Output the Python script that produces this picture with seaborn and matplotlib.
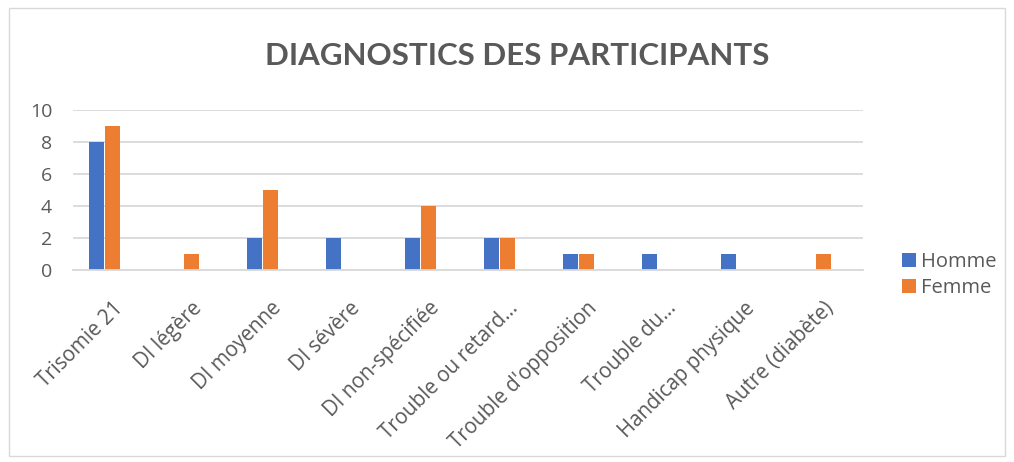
import matplotlib
matplotlib.use("Agg")
import pandas as pd
import matplotlib.pyplot as plt
import seaborn as sns
from matplotlib.patches import Rectangle
from matplotlib.transforms import ScaledTranslation

CATEGORIES = [
    "Trisomie 21", "DI légère", "DI moyenne", "DI sévère", "DI non-spécifiée",
    "Trouble ou retard…", "Trouble d'opposition", "Trouble du…",
    "Handicap physique", "Autre (diabète)",
]
HOMME = [8, 0, 2, 2, 2, 2, 1, 1, 1, 0]
FEMME = [9, 1, 5, 0, 4, 2, 1, 0, 0, 1]
SERIES = ["Homme", "Femme"]
COLORS = ["#4472C4", "#ED7D31"]
TEXT = "#595959"
GRID = "#D9D9D9"

df = pd.DataFrame({
    "cat": CATEGORIES * 2,
    "val": HOMME + FEMME,
    "sexe": ["Homme"] * len(HOMME) + ["Femme"] * len(FEMME),
})

sns.set_style("white")
plt.rcParams["font.family"] = ["Open Sans", "DejaVu Sans"]

fig = plt.figure(figsize=(10.14, 4.62), dpi=100)
ax = fig.add_axes([0.072, 0.4156, 0.779, 0.3463])

sns.barplot(data=df, x="cat", y="val", hue="sexe", hue_order=SERIES,
            palette=COLORS, saturation=1, width=0.405, gap=0.09,
            linewidth=0, ax=ax, legend=True)

ax.set_ylim(0, 10)
ax.set_yticks(range(0, 11, 2))
ax.set_xlim(-0.399, len(CATEGORIES) - 0.399)
ax.yaxis.grid(True, color=GRID, lw=1.3)
ax.set_axisbelow(True)
for s in ["top", "right", "left"]:
    ax.spines[s].set_visible(False)
ax.spines["bottom"].set_color(GRID)
ax.spines["bottom"].set_linewidth(1.3)
ax.set_xlabel("")
ax.set_ylabel("")
ax.tick_params(axis="both", length=0, colors=TEXT, labelsize=14)
ax.tick_params(axis="x", labelsize=14.8, pad=20)
ax.tick_params(axis="y", pad=15)
ax.set_xticks(range(len(CATEGORIES)))
ax.set_xticklabels(CATEGORIES, rotation=45, ha="right", va="top",
                   rotation_mode="anchor")
shift = ScaledTranslation(0.08, 0, fig.dpi_scale_trans)
for lab in ax.get_xticklabels():
    lab.set_transform(lab.get_transform() + shift)

ax.legend(loc="center left", bbox_to_anchor=(1.026, -0.03), frameon=False,
          fontsize=14.5, labelcolor=TEXT, handlelength=0.7, handleheight=0.7,
          handletextpad=0.25, labelspacing=0.3)

fig.text(0.510, 0.859, "DIAGNOSTICS DES PARTICIPANTS", ha="center", va="baseline",
         fontsize=22.5, fontweight="bold", color=TEXT, family=["Lato", "DejaVu Sans"])

fig.patches.append(Rectangle((0.009, 0.012), 0.982, 0.97, transform=fig.transFigure,
                             fill=False, edgecolor=GRID, lw=1))

fig.savefig("out.png", dpi=100)
